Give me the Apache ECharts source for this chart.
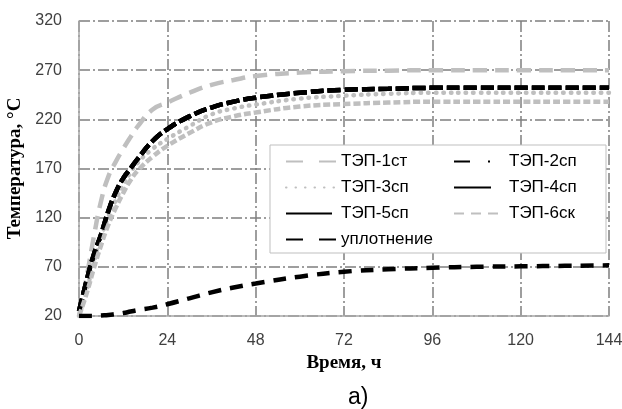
<!DOCTYPE html>
<html>
<head>
<meta charset="utf-8">
<script src="https://cdn.jsdelivr.net/npm/echarts@6/dist/echarts.min.js"></script>
<style>
  html, body { margin: 0; padding: 0; background: #fff; }
  #main { width: 622px; height: 409px; }
</style>
</head>
<body>
<div id="main"></div>
<script>
// время, ч
var hours = [0, 2, 4, 6, 8, 10, 12, 14, 16, 20, 24, 30, 36, 42, 48, 60, 72, 84, 96, 108, 120, 132, 144];

// температура, °C
var tep1st = [20, 58, 100, 137, 162, 177, 190, 202, 213, 230, 237, 247, 255, 260, 264, 267.5, 269, 269.5, 270, 270, 270, 270, 270];
var tep2sp = [25, 55, 82, 103, 127, 146, 160, 170, 180, 198, 210, 223, 232, 238, 242, 247, 250, 251, 252, 252, 252, 252, 252];
var tep3sp = [20, 45, 74, 100, 121, 138, 153, 166, 176, 190, 200, 213, 225, 231, 235, 241, 244, 246, 247, 247, 247, 247, 247];
var tep4sp = [25, 55, 82, 103, 127, 146, 160, 170, 180, 198, 210, 223, 232, 238, 242, 247, 250, 251, 252, 252, 252, 252, 252];
var tep5sp = [25, 55, 82, 103, 127, 146, 160, 170, 180, 198, 210, 223, 232, 238, 242, 247, 250, 251, 252, 252, 252, 252, 252];
var tep6sk = [20, 42, 68, 92, 113, 130, 145, 158, 168, 182, 193, 206, 217, 223, 227, 233, 235.5, 237, 238, 238, 238, 238, 238];
var uplotnenie = [20, 20, 20, 20.5, 21, 22, 23, 24.5, 26, 28.5, 32, 38, 44, 49, 53, 60, 65, 67.5, 69, 70, 70.5, 71, 71.5];

var yTicks = [20, 70, 120, 170, 220, 270, 320];

var GRAY = '#bfbfbf';
var GRID = '#7f7f7f';
var GRID_DASH = [11, 3, 2, 3];

function pairs(arr) {
  return hours.map(function (h, i) { return [h, arr[i]]; });
}

function line(name, arr, color, dash, cap) {
  return {
    name: name,
    type: 'line',
    smooth: true,
    symbol: 'none',
    data: pairs(arr),
    lineStyle: { color: color, width: 4.5, type: dash, cap: cap || 'butt' },
    itemStyle: { color: color }
  };
}

// образцы линий в легенде как в исходнике
function key(name, dash, cap) {
  return { name: name, lineStyle: { type: dash, cap: cap || 'butt' } };
}

function legendBox(items, left) {
  return {
    data: items,
    orient: 'vertical',
    left: left,
    top: 148,
    itemWidth: 50,
    itemHeight: 14,
    itemGap: 9,
    itemStyle: { opacity: 0 },
    textStyle: { fontFamily: 'Liberation Sans', fontSize: 17, color: '#000' }
  };
}

var chart = echarts.init(document.getElementById('main'));

var option = {
  backgroundColor: '#fff',
  animation: false,
  grid: { left: 79, right: 13, top: 21, bottom: 93, outerBoundsMode: 'none' },
  xAxis: {
    type: 'value',
    min: 0,
    max: 144,
    interval: 24,
    name: 'Время, ч',
    nameLocation: 'middle',
    nameGap: 36,
    nameTextStyle: { fontFamily: 'Liberation Serif', fontWeight: 'bold', fontSize: 19, color: '#000' },
    axisLine: { lineStyle: { color: '#a6a6a6', width: 1.5 } },
    axisTick: { show: false },
    axisLabel: { fontFamily: 'Liberation Sans', fontSize: 16, color: '#404040', margin: 17 },
    splitLine: { show: true, lineStyle: { color: GRID, width: 1.5, type: GRID_DASH } }
  },
  yAxis: {
    type: 'value',
    min: 20,
    max: 320,
    name: 'Температура, °C',
    nameLocation: 'middle',
    nameGap: 52,
    nameTextStyle: { fontFamily: 'Liberation Serif', fontWeight: 'bold', fontSize: 19, color: '#000' },
    axisLine: { show: true, lineStyle: { color: '#a6a6a6', width: 1.5 } },
    axisTick: { show: false, customValues: yTicks },
    axisLabel: { customValues: yTicks, fontFamily: 'Liberation Sans', fontSize: 16, color: '#404040', margin: 17 },
    splitLine: { show: true, lineStyle: { color: GRID, width: 1.5, type: GRID_DASH } }
  },
  legend: [
    legendBox([
      key('ТЭП-1ст', [17, 16]),
      key('ТЭП-3сп', [0.5, 9], 'round'),
      key('ТЭП-5сп', [46, 10]),
      key('уплотнение', [17, 16])
    ], 280),
    legendBox([
      key('ТЭП-2сп', [16, 18, 2, 20]),
      key('ТЭП-4сп', [37, 20]),
      key('ТЭП-6ск', [10, 7])
    ], 448)
  ],
  graphic: [{
    type: 'rect',
    z: 3,
    shape: { x: 270, y: 145, width: 336, height: 108 },
    style: { fill: '#fff', stroke: '#bfbfbf', lineWidth: 1 }
  }, {
    type: 'text',
    z: 5,
    left: 348,
    top: 386,
    style: { text: 'а)', fontFamily: 'Liberation Sans', fontSize: 23, fill: '#000' }
  }],
  series: [
    line('ТЭП-1ст', tep1st, GRAY, [14, 8]),
    line('ТЭП-2сп', tep2sp, '#000', [13, 4]),
    line('ТЭП-3сп', tep3sp, GRAY, [0.5, 7], 'round'),
    line('ТЭП-4сп', tep4sp, '#000', [13, 4]),
    line('ТЭП-5сп', tep5sp, '#000', [13, 4]),
    line('ТЭП-6ск', tep6sk, GRAY, [7, 3]),
    line('уплотнение', uplotnenie, '#000', [13, 9])
  ]
};

chart.setOption(option);
</script>
</body>
</html>
